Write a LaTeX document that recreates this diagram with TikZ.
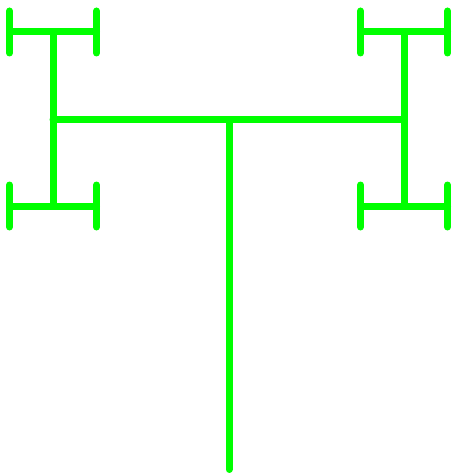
\documentclass[tikz,border=0pt]{standalone}
\definecolor{hgreen}{RGB}{0,255,0}
\begin{document}
\begin{tikzpicture}[x=1pt,y=-1pt,
  branch/.style={draw=hgreen,line width=7pt,line cap=round}]
\useasboundingbox (0,0) rectangle (451,473);
% main trunk and bar
\coordinate (root) at (229,469.5);
\coordinate (c) at (229,120);
\coordinate (L) at (53,120);
\coordinate (R) at (404,120);
\coordinate (LT) at (53,32);
\coordinate (LB) at (53,206);
\coordinate (RT) at (404,32);
\coordinate (RB) at (404,206);
\draw[branch] (root) -- (c);
\draw[branch] (L) -- (R);
\draw[branch] (LT) -- (LB);
\draw[branch] (RT) -- (RB);
% small H caps
\foreach \cx/\cy in {53/32, 53/206, 404/32, 404/206}{
  \draw[branch] (\cx-43.5,\cy) -- (\cx+43.5,\cy);
  \draw[branch] (\cx-43.5,\cy-21) -- (\cx-43.5,\cy+21);
  \draw[branch] (\cx+43.5,\cy-21) -- (\cx+43.5,\cy+21);
}
\end{tikzpicture}
\end{document}
